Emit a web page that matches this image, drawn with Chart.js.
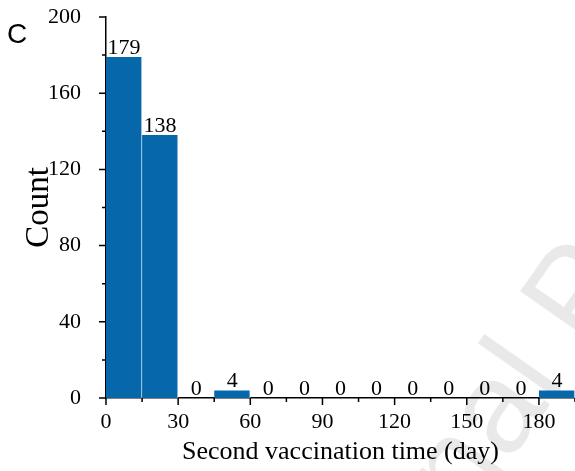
<!DOCTYPE html>
<html>
<head>
<meta charset="utf-8">
<script src="https://cdn.jsdelivr.net/npm/chart.js@4/dist/chart.umd.min.js"></script>
<style>
  html, body { margin: 0; padding: 0; background: #fff; }
  #wrap { width: 575px; height: 471px; position: relative; }
</style>
</head>
<body>
<div id="wrap"><canvas id="chart" width="575" height="471"></canvas></div>
<script>
// Histogram of the second vaccination time, 15-day bins
const binStarts = [0, 15, 30, 45, 60, 75, 90, 105, 120, 135, 150, 165, 180];
const binWidth = 15;
const counts = [179, 138, 0, 4, 0, 0, 0, 0, 0, 0, 0, 0, 4];
const xTickLabels = [0, 30, 60, 90, 120, 150, 180];
const yTickLabels = [0, 40, 80, 120, 160, 200];

const SERIF = '"Liberation Serif", "Times New Roman", serif';
const BAR_BLUE = '#0767ab';

// each bar sits at the centre of its bin on a linear axis
const barData = binStarts.map((s, i) => ({ x: s + binWidth / 2, y: counts[i] }));

// faint diagonal watermark behind the plot
const watermark = {
  id: 'watermark',
  beforeDraw(chart) {
    const ctx = chart.ctx;
    ctx.save();
    ctx.translate(322, 730);
    ctx.rotate(-55 * Math.PI / 180);
    ctx.font = '130px "Liberation Sans", Arial, sans-serif';
    ctx.fillStyle = 'rgba(0,0,0,0.085)';
    ctx.textBaseline = 'alphabetic';
    ctx.textAlign = 'left';
    ctx.fillText('Journal Pre-proof', 0, 0);
    ctx.restore();
  }
};

// outward tick marks (major + minor) and the value labels on top of the bars
const decorations = {
  id: 'decorations',
  afterDraw(chart) {
    const ctx = chart.ctx;
    const xs = chart.scales.x, ys = chart.scales.y;
    const area = chart.chartArea;
    ctx.save();
    ctx.strokeStyle = '#000';
    ctx.lineWidth = 1.5;
    ctx.beginPath();
    xs.ticks.forEach(t => {
      const px = xs.getPixelForValue(t.value);
      const len = xTickLabels.includes(t.value) ? 7 : 4;
      ctx.moveTo(px, area.bottom);
      ctx.lineTo(px, area.bottom + len);
    });
    ys.ticks.forEach(t => {
      const py = ys.getPixelForValue(t.value);
      const len = yTickLabels.includes(t.value) ? 7 : 4;
      ctx.moveTo(area.left, py);
      ctx.lineTo(area.left - len, py);
    });
    ctx.stroke();

    // bar value labels
    const meta = chart.getDatasetMeta(0);
    ctx.fillStyle = '#000';
    ctx.font = '22px ' + SERIF;
    ctx.textAlign = 'center';
    ctx.textBaseline = 'alphabetic';
    meta.data.forEach((el, i) => {
      ctx.fillText(String(counts[i]), el.x, el.y - 3);
    });

    // panel letter
    ctx.font = '28px "Liberation Sans", Arial, sans-serif';
    ctx.textAlign = 'left';
    ctx.fillText('C', 7, 43);
    ctx.restore();
  }
};

new Chart(document.getElementById('chart'), {
  type: 'bar',
  data: {
    datasets: [{
      data: barData,
      backgroundColor: BAR_BLUE,
      borderColor: 'rgba(255,255,255,0.85)',
      borderWidth: { left: 0, right: 1, top: 0, bottom: 0 },
      borderSkipped: false,
      barPercentage: 1,
      categoryPercentage: 1
    }]
  },
  options: {
    responsive: false,
    animation: false,
    devicePixelRatio: 1,
    layout: { padding: { top: 17, right: 0, left: 0, bottom: 0 } },
    plugins: { legend: { display: false }, tooltip: { enabled: false } },
    scales: {
      x: {
        type: 'linear',
        offset: false,
        min: 0,
        max: 195,
        grid: { display: false, offset: false },
        border: { display: true, color: '#000', width: 1.5 },
        ticks: {
          stepSize: binWidth,
          autoSkip: false,
          maxRotation: 0,
          padding: 3,
          color: '#000',
          font: { family: SERIF, size: 22 },
          callback: v => (xTickLabels.includes(v) ? String(v) : '')
        },
        title: {
          display: true,
          text: 'Second vaccination time (day)',
          color: '#000',
          font: { family: SERIF, size: 26 },
          padding: { top: 0, bottom: 3 }
        },
        afterFit: s => { s.height = 73; s.paddingLeft = 0; s.paddingRight = 0; }
      },
      y: {
        min: 0,
        max: 200,
        grid: { display: false },
        border: { display: true, color: '#000', width: 1.5 },
        ticks: {
          stepSize: 20,
          autoSkip: false,
          padding: 17,
          color: '#000',
          font: { family: SERIF, size: 22 },
          callback: v => (yTickLabels.includes(v) ? String(v) : '')
        },
        title: {
          display: true,
          text: 'Count',
          color: '#000',
          font: { family: SERIF, size: 33 },
          padding: { top: 20, bottom: 0 }
        },
        afterFit: s => { s.width = 106; s.paddingTop = 0; s.paddingBottom = 0; }
      }
    }
  },
  plugins: [watermark, decorations]
});
</script>
</body>
</html>
